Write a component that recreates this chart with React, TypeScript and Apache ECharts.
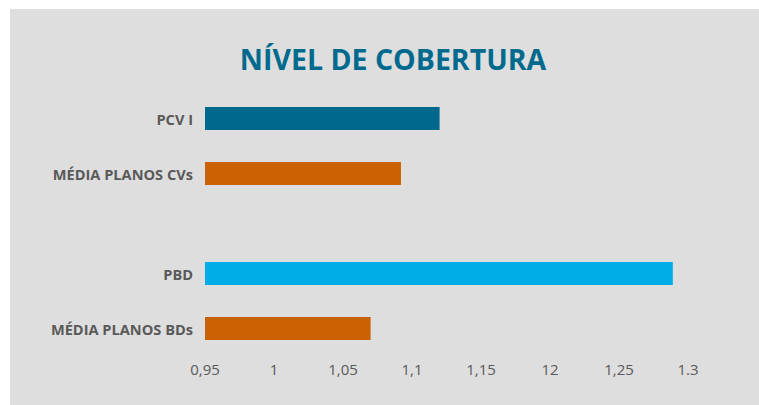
import React, { useEffect, useRef } from "react";
import * as echarts from "echarts";

const titleText = "NÍVEL DE COBERTURA";
const cvCategories = ["PCV I", "MÉDIA PLANOS CVs"];
const cvValues = [1.12, 1.092];
const cvColors = ["#00688C", "#CA6104"];
const bdCategories = ["PBD", "MÉDIA PLANOS BDs"];
const bdValues = [1.289, 1.07];
const bdColors = ["#00ADE6", "#CA6104"];
const tickLabels = ["0,95", "1", "1,05", "1,1", "1,15", "12", "1,25", "1.3"];
const axisMin = 0.95;
const axisMax = 1.3;
const axisStep = 0.05;

const labelColor = "#595959";
const font = "'Open Sans', sans-serif";

export default function App() {
  const ref = useRef<HTMLDivElement>(null);
  useEffect(() => {
    if (!ref.current) return;
    const chart = echarts.init(ref.current, undefined, { renderer: "svg" });
    const xAxisBase = (showLabels: boolean, gridIndex: number) => ({
      type: "value",
      gridIndex,
      min: axisMin,
      max: axisMax,
      interval: axisStep,
      axisLine: { show: false },
      axisTick: { show: false },
      splitLine: { show: false },
      axisLabel: {
        show: showLabels,
        margin: 5,
        color: labelColor,
        fontFamily: font,
        fontSize: 15,
        formatter: (v: number) => tickLabels[Math.round((v - axisMin) / axisStep)] ?? "",
      },
    });
    const yAxisBase = (cats: string[], gridIndex: number) => ({
      type: "category",
      gridIndex,
      inverse: true,
      data: cats,
      axisLine: { show: false },
      axisTick: { show: false },
      splitLine: { show: false },
      axisLabel: {
        margin: 12,
        color: labelColor,
        fontFamily: font,
        fontSize: 14.6,
        fontWeight: "bold",
      },
    });
    chart.setOption({
      animation: false,
      backgroundColor: "#ffffff",
      graphic: [
        {
          type: "rect",
          z: -10,
          shape: { x: 10, y: 9, width: 749, height: 396 },
          style: { fill: "#DEDEDE" },
        },
      ],
      title: {
        text: titleText,
        left: 388,
        top: 39,
        textAlign: "center",
        textStyle: {
          color: "#006A8E",
          fontFamily: font,
          fontWeight: "bold",
          fontSize: 28.5,
        },
      },
      grid: [
        { left: 205, right: 71, top: 91, height: 110 },
        { left: 205, right: 71, top: 246, height: 110 },
      ],
      xAxis: [xAxisBase(false, 0), xAxisBase(true, 1)],
      yAxis: [yAxisBase(cvCategories, 0), yAxisBase(bdCategories, 1)],
      series: [
        {
          type: "bar",
          xAxisIndex: 0,
          yAxisIndex: 0,
          barWidth: 23,
          data: cvValues.map((v, i) => ({ value: v, itemStyle: { color: cvColors[i] } })),
        },
        {
          type: "bar",
          xAxisIndex: 1,
          yAxisIndex: 1,
          barWidth: 23,
          data: bdValues.map((v, i) => ({ value: v, itemStyle: { color: bdColors[i] } })),
        },
      ],
    });
    return () => chart.dispose();
  }, []);
  return (
    <div
      ref={ref}
      style={{ position: "fixed", left: 0, top: 0, width: 759, height: 405 }}
    />
  );
}
